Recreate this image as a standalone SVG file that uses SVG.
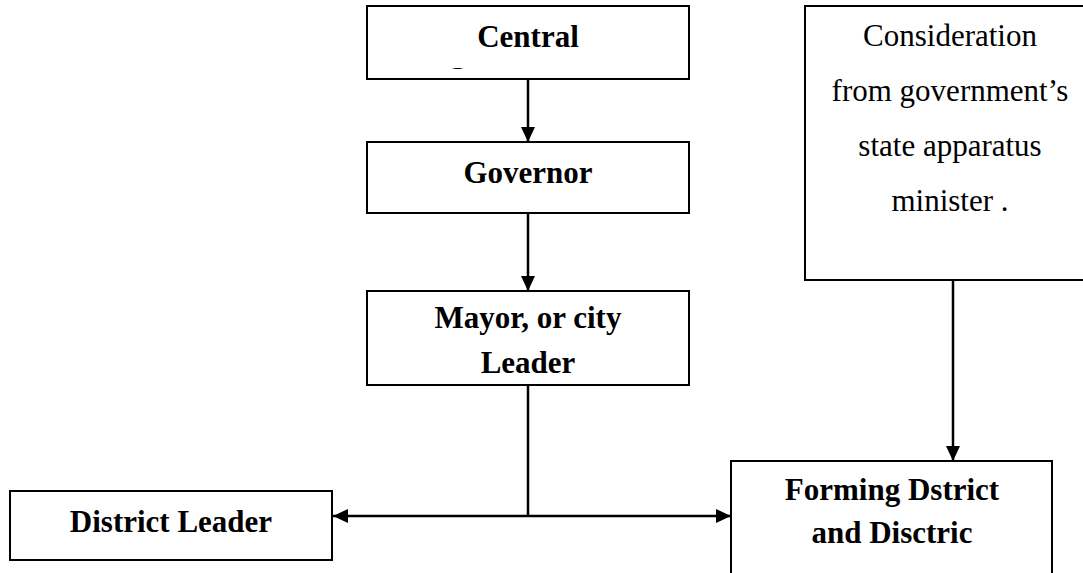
<svg xmlns="http://www.w3.org/2000/svg" width="1083" height="573" viewBox="0 0 1083 573">
  <style>
    .box { fill: #ffffff; stroke: #000000; stroke-width: 2; }
    .bt { font-family: "Liberation Serif", "Times New Roman", serif; font-size: 31px; font-weight: bold; fill: #000000; text-anchor: middle; }
    .rt { font-family: "Liberation Serif", "Times New Roman", serif; font-size: 31px; fill: #000000; text-anchor: middle; }
    .conn { fill: none; stroke: #000000; stroke-width: 2.5; }
  </style>
  <defs>
    <marker id="arrow" viewBox="0 0 15 14" refX="15" refY="7" markerWidth="15" markerHeight="14" markerUnits="userSpaceOnUse" orient="auto-start-reverse">
      <path d="M0,0 L15,7 L0,14 Z" fill="#000000"/>
    </marker>
    <clipPath id="clipCentral">
      <rect x="368" y="7" width="320" height="62"/>
    </clipPath>
  </defs>
  <rect width="1083" height="573" fill="#ffffff"/>

  <g id="central">
    <rect class="box" x="367" y="6" width="322" height="73"/>
    <text class="bt" x="528" y="47">Central</text>
    <text class="bt" x="528" y="89" clip-path="url(#clipCentral)">Government</text>
  </g>

  <g id="governor">
    <rect class="box" x="367" y="142" width="322" height="71"/>
    <text class="bt" x="528" y="183">Governor</text>
  </g>

  <g id="mayor">
    <rect class="box" x="367" y="291" width="322" height="94"/>
    <text class="bt" x="528" y="328">Mayor, or city</text>
    <text class="bt" x="528" y="373">Leader</text>
  </g>

  <g id="consideration">
    <rect class="box" x="805" y="6" width="290" height="274"/>
    <text class="rt" x="950" y="46">Consideration</text>
    <text class="rt" x="950" y="101">from government’s</text>
    <text class="rt" x="950" y="156">state apparatus</text>
    <text class="rt" x="950" y="211">minister .</text>
  </g>

  <g id="district-leader">
    <rect class="box" x="10" y="491" width="322" height="69"/>
    <text class="bt" x="171" y="532">District Leader</text>
  </g>

  <g id="forming">
    <rect class="box" x="731" y="461" width="321" height="120"/>
    <text class="bt" x="892" y="500">Forming Dstrict</text>
    <text class="bt" x="892" y="543">and Disctric</text>
  </g>

  <g id="connectors">
    <line class="conn" x1="528" y1="79" x2="528" y2="142" marker-end="url(#arrow)"/>
    <line class="conn" x1="528" y1="213" x2="528" y2="291" marker-end="url(#arrow)"/>
    <line class="conn" x1="953" y1="280" x2="953" y2="461" marker-end="url(#arrow)"/>
    <line class="conn" x1="528" y1="385" x2="528" y2="516"/>
    <line class="conn" x1="333" y1="516" x2="731" y2="516" marker-start="url(#arrow)" marker-end="url(#arrow)"/>
  </g>
</svg>
